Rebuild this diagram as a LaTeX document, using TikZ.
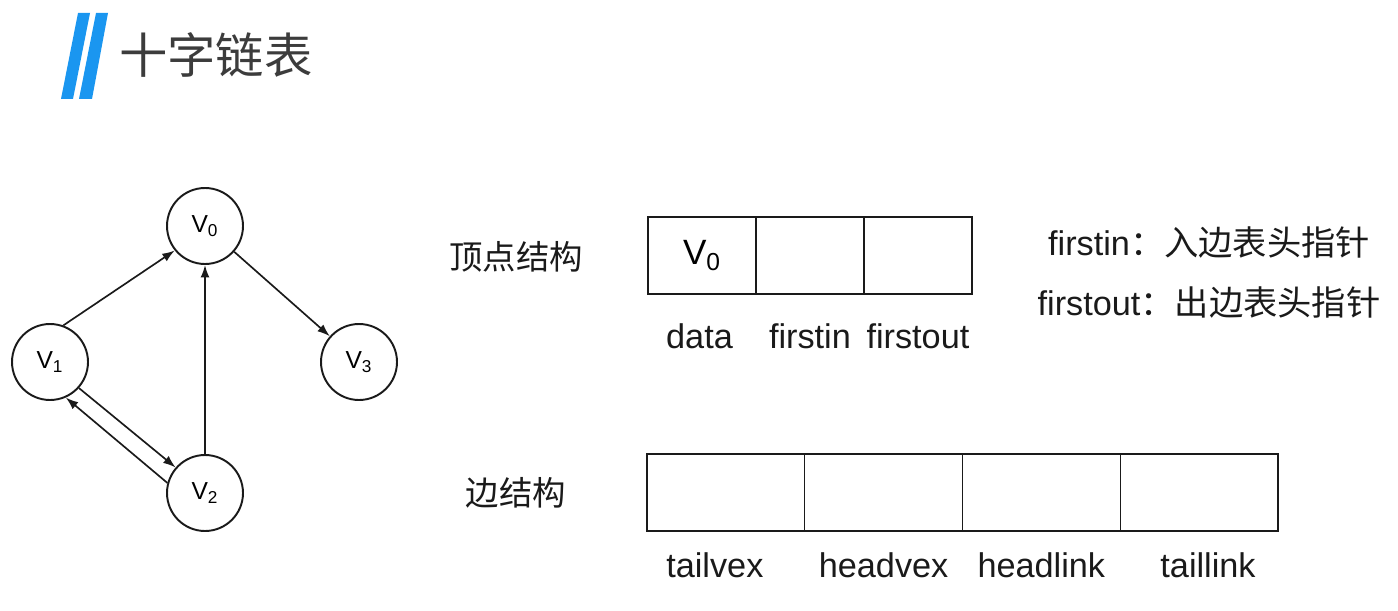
\documentclass[tikz,border=0pt]{standalone}
\usepackage{fontspec}
\setmainfont{Liberation Sans}
\newfontfamily\cjk{Noto Sans CJK SC}
\usetikzlibrary{arrows.meta, positioning}
\definecolor{barblue}{HTML}{1A96F0}
\definecolor{titlegray}{HTML}{3C3C3C}
\definecolor{ink}{HTML}{1A1A1A}
\newcommand{\vx}[1]{V\textsubscript{#1}}
\tikzset{
  vertex/.style={circle,draw=ink,line width=1.1pt,minimum size=1.52cm,inner sep=0pt,
    font=\fontsize{14}{16}\selectfont},
  vcell/.style={rectangle,draw=ink,line width=0.7pt,minimum width=2.16cm,minimum height=1.54cm,
    inner sep=0pt,outer sep=0pt,font=\fontsize{20}{24}\selectfont},
  ecell/.style={vcell,minimum width=3.155cm},
  field/.style={inner sep=0pt,font=\fontsize{19.5}{22}\selectfont,text=ink},
  caption/.style={inner sep=0pt,font=\cjk\fontsize{19}{22}\selectfont,text=ink},
  note/.style={inner sep=0pt,font=\fontsize{19.5}{22}\selectfont,text=ink},
  arc/.style={-{Latex[length=2.5mm,width=1.8mm]},line width=0.95pt,ink},
  titlebar/.style={fill=barblue,draw=none},
}
\begin{document}
\begin{tikzpicture}[x=0.02cm,y=-0.02cm]
  \useasboundingbox (0,0) rectangle (1398,611);
  \fill[titlebar] (61,99) -- (73,99) -- (90,13) -- (78,13) -- cycle;
  \fill[titlebar] (79,99) -- (92,99) -- (108,13) -- (96,13) -- cycle;
  \node[inner sep=0pt,font=\cjk\fontsize{27.5}{30}\selectfont,text=titlegray,anchor=west] (title) at (119,55) {十字链表};

  \node[vertex] (v0) at (205,226) {\vx{0}};
  \node[vertex] (v1) at (50,362) {\vx{1}};
  \node[vertex] (v3) at (359,362) {\vx{3}};
  \node[vertex] (v2) at (205,493) {\vx{2}};
  \draw[arc] (v1.70) -- (v0.219);
  \draw[arc] (v2) -- (v0);
  \draw[arc] (v0) -- (v3);
  \draw[arc] (v1.-42) -- (v2.139);
  \draw[arc] (v2.165) -- (v1.-66);

  \node[caption] (vcap) at (516,257) {顶点结构};
  \node[vcell,anchor=north west] (data) at (648,217) {\vx{0}};
  \node[vcell,right=0pt of data] (fin) {};
  \node[vcell,right=0pt of fin] (fout) {};
  \node[field,below=0.58cm of data,xshift=-0.05cm] (ldata) {data};
  \node[field,below=0.58cm of fin] (lfin) {firstin};
  \node[field,below=0.58cm of fout] (lfout) {firstout};
  \node[note] (nin) at (1209,243) {firstin{\cjk：入边表头指针}};
  \node[note] (nout) at (1209,303) {firstout{\cjk：出边表头指针}};

  \node[caption] (ecap) at (516,493) {边结构};
  \node[ecell,anchor=north west] (tv) at (647,454) {};
  \node[ecell,right=0pt of tv] (hv) {};
  \node[ecell,right=0pt of hv] (hl) {};
  \node[ecell,right=0pt of hl] (tl) {};
  \node[field,below=0.43cm of tv,xshift=-0.22cm] (ltv) {tailvex};
  \node[field,below=0.43cm of hv] (lhv) {headvex};
  \node[field,below=0.43cm of hl] (lhl) {headlink};
  \node[field,below=0.43cm of tl,xshift=0.18cm] (ltl) {taillink};
\end{tikzpicture}
\end{document}
